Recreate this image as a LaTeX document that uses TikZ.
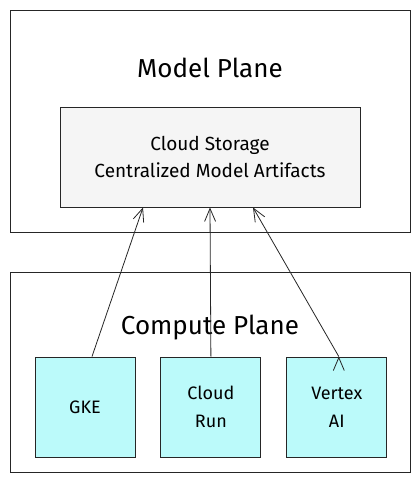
\documentclass[tikz,border=0pt]{standalone}
\usepackage{fontspec}
\setmainfont{Fira Sans}
\usepackage{xcolor}
\usetikzlibrary{positioning, arrows.meta}

\definecolor{storefill}{RGB}{245,245,245}
\definecolor{svcfill}{RGB}{187,250,250}

\begin{document}
\begin{tikzpicture}[x=1pt, y=-1pt,
    plane/.style={draw=black!85, line width=0.9pt, minimum width=400pt},
    title/.style={font=\fontsize{26}{30}\selectfont},
    store/.style={draw=black!85, line width=0.9pt, fill=storefill, align=center,
        minimum width=300pt, minimum height=100pt, font=\fontsize{19}{27}\selectfont},
    svc/.style={draw=black!85, line width=0.9pt, fill=svcfill, align=center,
        minimum width=100pt, minimum height=100pt, font=\fontsize{18}{28}\selectfont},
    link/.style={draw=black!85, line width=0.8pt, -{Straight Barb[length=13pt, width=11pt]}}]
    \useasboundingbox (0,0) rectangle (420,482);

    \node[plane, minimum height=222pt] (model) at (210,121) {};
    \node[title] (modeltitle) at (210,68) {Model Plane};
    \node[store] (storage) at (210,157) {Cloud Storage\\Centralized Model Artifacts};

    \node[plane, minimum height=200pt] (compute) at (210.5,372) {};
    \node[title] (computetitle) at (210,328) {Compute Plane};
    \node[svc] (gke) at (85,407) {GKE};
    \node[svc] (run) [right=25pt of gke] {Cloud\\Run};
    \node[svc] (vertex) [right=25pt of run] {Vertex\\AI};

    % services pull artifacts from storage
    \path[link] ([xshift=7pt]gke.north) edge ([xshift=-67pt]storage.south)
        (run.north) edge (storage.south)
        ([xshift=2pt]vertex.north) edge ([xshift=43pt]storage.south);
\end{tikzpicture}
\end{document}
